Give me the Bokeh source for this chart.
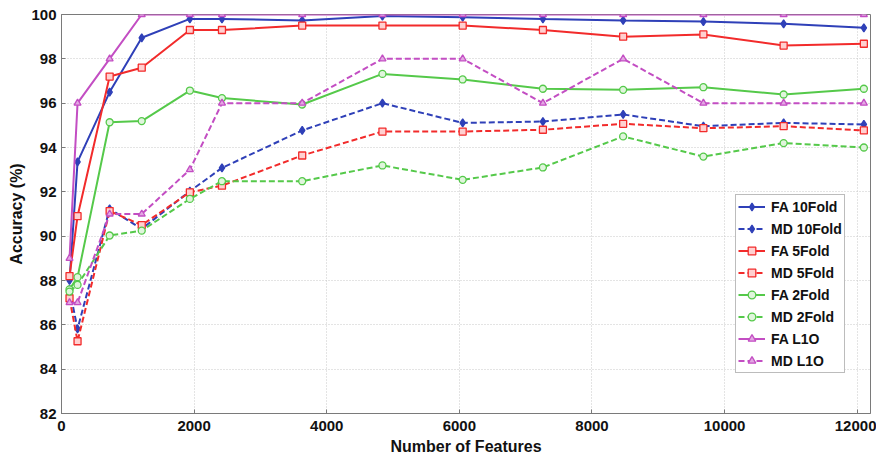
from bokeh.plotting import figure
from bokeh.models import Range1d, FixedTicker, Legend, LegendItem
from bokeh.embed import file_html
from bokeh.resources import INLINE

features = [121, 242, 726, 1210, 1936, 2420, 3630, 4840, 6050, 7260, 8470, 9680, 10890, 12100]

fa_10fold = [88.0, 93.35, 96.5, 98.95, 99.8, 99.8, 99.73, 99.93, 99.88, 99.8, 99.73, 99.68, 99.58, 99.4]
md_10fold = [87.6, 85.82, 91.23, 90.33, 92.03, 93.08, 94.77, 96.0, 95.11, 95.17, 95.49, 94.96, 95.11, 95.04]
fa_5fold = [88.2, 90.9, 97.2, 97.6, 99.3, 99.3, 99.5, 99.5, 99.5, 99.3, 99.0, 99.1, 98.6, 98.68]
md_5fold = [87.2, 85.26, 91.13, 90.5, 91.98, 92.28, 93.64, 94.72, 94.72, 94.8, 95.07, 94.87, 94.96, 94.77]
fa_2fold = [87.6, 88.15, 95.14, 95.19, 96.57, 96.23, 95.94, 97.32, 97.07, 96.65, 96.6, 96.72, 96.39, 96.65]
md_2fold = [87.5, 87.8, 90.03, 90.25, 91.68, 92.48, 92.48, 93.19, 92.54, 93.1, 94.5, 93.59, 94.2, 94.0]
fa_l1o = [89.0, 96.0, 98.0, 100.0, 100.0, 100.0, 100.0, 100.0, 100.0, 100.0, 100.0, 100.0, 100.0, 100.0]
md_l1o = [87.0, 87.0, 91.0, 91.0, 93.0, 96.0, 96.0, 98.0, 98.0, 96.0, 98.0, 96.0, 96.0, 96.0]

x_ticks = [0, 2000, 4000, 6000, 8000, 10000, 12000]
y_ticks = [82, 84, 86, 88, 90, 92, 94, 96, 98, 100]

BLUE = "#2f40b8"
RED = "#f22b2b"
GREEN = "#55c94a"
MAGENTA = "#c34ec3"
FONT = "Liberation Sans"

p = figure(width=876, height=461, output_backend="svg", toolbar_location=None,
           x_range=Range1d(0, 12200), y_range=Range1d(82, 100),
           min_border_left=61, min_border_right=6, min_border_top=14, min_border_bottom=48)
p.background_fill_color = "white"
p.border_fill_color = "white"
p.outline_line_color = "#7a7a7a"
p.outline_line_width = 1

for ax in (p.xaxis[0], p.yaxis[0]):
    ax.major_tick_in = 4
    ax.major_tick_out = 0
    ax.minor_tick_in = 0
    ax.minor_tick_out = 0
    ax.axis_line_color = "#7a7a7a"
    ax.major_tick_line_color = "#7a7a7a"
    ax.major_label_text_font = FONT
    ax.major_label_text_font_style = "bold"
    ax.major_label_text_font_size = "15px"
    ax.major_label_text_color = "#111111"
    ax.axis_label_text_font = FONT
    ax.axis_label_text_font_style = "bold"
    ax.axis_label_text_font_size = "16px"
    ax.axis_label_text_color = "#111111"

p.xaxis.ticker = FixedTicker(ticks=x_ticks)
p.yaxis.ticker = FixedTicker(ticks=y_ticks)
p.xaxis.axis_label = "Number of Features"
p.yaxis.axis_label = "Accuracy (%)"
p.xaxis.major_label_standoff = 7
p.xaxis.axis_label_standoff = 4
p.yaxis.major_label_standoff = 5
p.yaxis.axis_label_standoff = 3

p.xgrid.ticker = FixedTicker(ticks=x_ticks)
p.ygrid.ticker = FixedTicker(ticks=y_ticks)
for g in (p.xgrid[0], p.ygrid[0]):
    g.grid_line_color = "#c8c8c8"
    g.grid_line_dash = "1 2"
    g.grid_line_width = 1

series = [
    ("FA 10Fold", fa_10fold, BLUE, "solid", "diamond", BLUE),
    ("MD 10Fold", md_10fold, BLUE, "6 3", "diamond", BLUE),
    ("FA 5Fold", fa_5fold, RED, "solid", "square", "#ffd0d0"),
    ("MD 5Fold", md_5fold, RED, "6 3", "square", "#ffd0d0"),
    ("FA 2Fold", fa_2fold, GREEN, "solid", "circle", "#e0f5dc"),
    ("MD 2Fold", md_2fold, GREEN, "6 3", "circle", "#e0f5dc"),
    ("FA L1O", fa_l1o, MAGENTA, "solid", "triangle", "#e3a8e3"),
    ("MD L1O", md_l1o, MAGENTA, "6 3", "triangle", "#e3a8e3"),
]

items = []
for name, ys, color, dash, marker, fill in series:
    r1 = p.line(features, ys, line_color=color, line_width=2, line_dash=dash)
    msize = 8 if marker == "diamond" else 7
    r2 = p.scatter(features, ys, marker=marker, size=msize, line_color=color,
                   fill_color=fill, line_width=1.3)
    items.append(LegendItem(label=name, renderers=[r1, r2]))

legend = Legend(items=items, location=(674, 40), margin=0, padding=2, spacing=3,
                glyph_width=27, glyph_height=19, label_height=19, label_standoff=6,
                label_text_font=FONT, label_text_font_style="bold",
                label_text_font_size="14px", label_text_color="#111111",
                border_line_color="#7a7a7a", border_line_width=1,
                background_fill_color="white", background_fill_alpha=1.0)
p.add_layout(legend)

open("out.html", "w").write(file_html(p, INLINE))
